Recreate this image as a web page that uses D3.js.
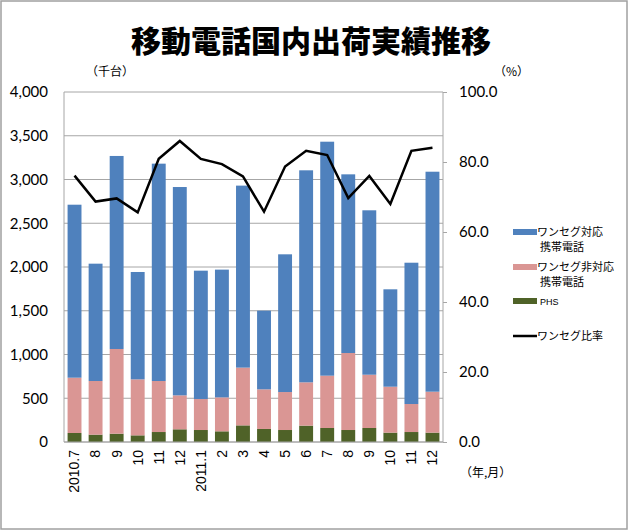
<!DOCTYPE html>
<html><head><meta charset="utf-8">
<script src="https://cdn.jsdelivr.net/npm/d3@7"></script>
<style>body{margin:0;background:#fff}svg{display:block}</style>
</head><body>
<svg id="c" width="629" height="531"></svg>
<script>
const categories = ["2010.7","8","9","10","11","12","2011.1","2","3","4","5","6","7","8","9","10","11","12"];
const oneSeg    = [1977,1341,2206,1227,2484,2381,1467,1460,2080,899,1574,2423,2674,2042,1879,1113,1615,2514];
const nonOneSeg = [632,613,968,640,583,388,354,388,660,453,434,495,598,880,609,525,320,468];
const phs       = [103,84,95,76,114,145,137,122,190,149,137,187,160,137,160,107,114,107];
const ratio     = [76.1,68.7,69.6,65.6,80.9,86.0,80.9,79.4,75.9,65.8,78.7,83.2,82.0,69.7,76.0,68.0,83.2,84.1];
const leftTicks = [0,500,1000,1500,2000,2500,3000,3500,4000];
const rightTicks = [0,20,40,60,80,100];
const seriesNames = ["PHS","ワンセグ非対応携帯電話","ワンセグ対応携帯電話"];
const colors = {"PHS":"#4f6228","ワンセグ非対応携帯電話":"#da9694","ワンセグ対応携帯電話":"#4f81bd"};

const svg = d3.select("#c");
const L=64, R=443, T=92, B=442;

svg.append("rect").attr("x",1).attr("y",1).attr("width",626).attr("height",528)
  .attr("fill","#fff").attr("stroke","#a0a0a0").attr("stroke-width",1.5);

svg.append("text").attr("x",311).attr("y",52).attr("text-anchor","middle")
  .attr("font-family","'Noto Sans CJK JP'").attr("font-weight",900).attr("font-size",30)
  .text("移動電話国内出荷実績推移");

const x = d3.scaleBand().domain(categories.map((c,i)=>i)).range([L,R]).paddingInner(0.34).paddingOuter(0.17);
const y = d3.scaleLinear().domain([0,4000]).range([B,T]);
const y2 = d3.scaleLinear().domain([0,100]).range([B,T]);

// gridlines
svg.append("g").selectAll("line").data(leftTicks).join("line")
  .attr("x1",L).attr("x2",R).attr("y1",d=>y(d)).attr("y2",d=>y(d))
  .attr("stroke","#a6a6a6").attr("stroke-width",1);

// stacked bars
const rows = categories.map((c,i)=>({i, "PHS":phs[i], "ワンセグ非対応携帯電話":nonOneSeg[i], "ワンセグ対応携帯電話":oneSeg[i]}));
const stack = d3.stack().keys(seriesNames)(rows);
svg.append("g").selectAll("g").data(stack).join("g").attr("fill",d=>colors[d.key])
  .selectAll("rect").data(d=>d).join("rect")
  .attr("x",d=>x(d.data.i)).attr("width",x.bandwidth())
  .attr("y",d=>y(d[1])).attr("height",d=>y(d[0])-y(d[1]));

// axes lines
svg.append("line").attr("x1",L).attr("x2",L).attr("y1",T).attr("y2",B).attr("stroke","#a6a6a6");
svg.append("line").attr("x1",R).attr("x2",R).attr("y1",T).attr("y2",B).attr("stroke","#a6a6a6");
svg.append("line").attr("x1",L).attr("x2",R).attr("y1",B).attr("y2",B).attr("stroke","#a6a6a6");

// left axis
const la = svg.append("g").attr("transform",`translate(${L},0)`)
  .call(d3.axisLeft(y).tickValues(leftTicks).tickFormat(d3.format(",")).tickSize(0).tickPadding(16));
la.select(".domain").remove();
la.selectAll("text").attr("font-family","Lato").attr("font-size",15).attr("fill","#000");

// right axis
const ra = svg.append("g").attr("transform",`translate(${R},0)`)
  .call(d3.axisRight(y2).tickValues(rightTicks).tickFormat(d3.format(".1f")).tickSize(4).tickPadding(12));
ra.select(".domain").remove();
ra.selectAll("line").attr("stroke","#a6a6a6");
ra.selectAll("text").attr("font-family","Lato").attr("font-size",15).attr("fill","#000");

// x axis labels
const xa = svg.append("g").attr("transform",`translate(0,${B})`)
  .call(d3.axisBottom(x).tickFormat(i=>categories[i]).tickSize(0));
xa.select(".domain").remove();
xa.selectAll("text").attr("font-family","'Liberation Sans'").attr("font-size",14).attr("fill","#000")
  .attr("text-anchor","end").attr("transform","rotate(-90)").attr("x",-8).attr("y",0).attr("dy","0.35em")
  .attr("dx",0);

// ratio line
svg.append("path").datum(ratio)
  .attr("d",d3.line().x((d,i)=>x(i)+x.bandwidth()/2).y(d=>y2(d)))
  .attr("fill","none").attr("stroke","#000").attr("stroke-width",2.5).attr("stroke-linejoin","miter");

// unit labels
const jp = "'Noto Sans CJK JP'";
svg.append("text").attr("x",86).attr("y",76).attr("font-family",jp).attr("font-size",12).text("（千台）");
svg.append("text").attr("x",494).attr("y",76).attr("font-family",jp).attr("font-size",12).text("（%）");
svg.append("text").attr("x",460).attr("y",477).attr("font-family",jp).attr("font-size",12).text("（年,月）");

// legend
const lg = svg.append("g").attr("font-family",jp).attr("font-size",11);
const legendItems = [
  {key:"ワンセグ対応携帯電話", lines:["ワンセグ対応","携帯電話"], y:232},
  {key:"ワンセグ非対応携帯電話", lines:["ワンセグ非対応","携帯電話"], y:267},
];
legendItems.forEach(it=>{
  lg.append("rect").attr("x",513).attr("y",it.y-3).attr("width",24).attr("height",6).attr("fill",colors[it.key]);
  lg.append("text").attr("x",537).attr("y",it.y+4).text(it.lines[0]);
  lg.append("text").attr("x",540).attr("y",it.y+19).text(it.lines[1]);
});
lg.append("rect").attr("x",513).attr("y",298).attr("width",24).attr("height",6).attr("fill",colors["PHS"]);
lg.append("text").attr("x",540).attr("y",305).attr("font-family","'Liberation Sans'").attr("font-size",9).text("PHS");
lg.append("line").attr("x1",513).attr("x2",537).attr("y1",336).attr("y2",336).attr("stroke","#000").attr("stroke-width",2.5);
lg.append("text").attr("x",537).attr("y",340).text("ワンセグ比率");
</script>
</body></html>
